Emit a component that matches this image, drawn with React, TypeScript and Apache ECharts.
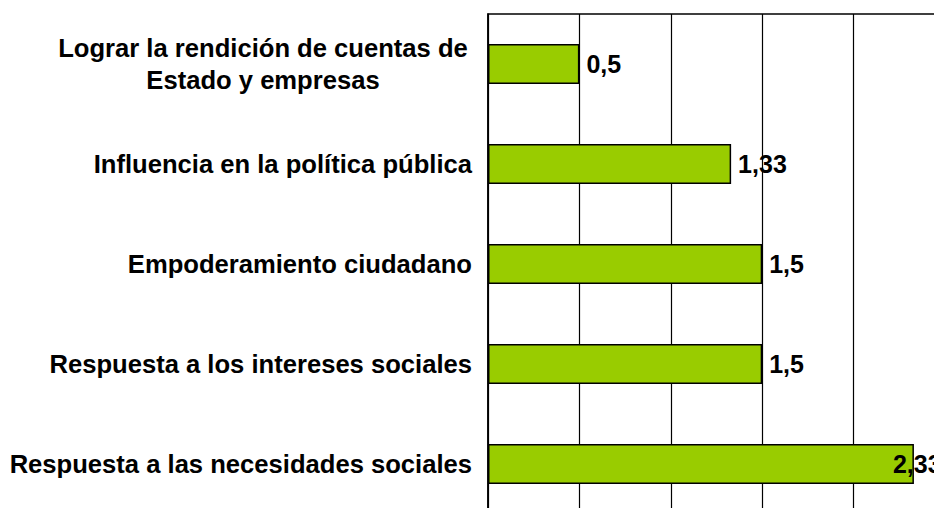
import React, { useEffect, useRef } from "react";
import * as echarts from "echarts";

const categories = [
  "Lograr la rendición de cuentas de\nEstado y empresas",
  "Influencia en la política pública",
  "Empoderamiento ciudadano",
  "Respuesta a los intereses sociales",
  "Respuesta a las necesidades sociales",
];
const values = [0.5, 1.33, 1.5, 1.5, 2.33];
const xTicks = [0, 0.5, 1, 1.5, 2, 2.5];

const FONT = "'Liberation Sans', Arial, sans-serif";
const FS = 25.6;

export default function App() {
  const ref = useRef<HTMLDivElement>(null);
  useEffect(() => {
    if (!ref.current) return;
    const chart = echarts.init(ref.current, null, { renderer: "svg" });
    chart.setOption({
      animation: false,
      backgroundColor: "#ffffff",
      grid: {
        left: 488,
        top: 14,
        width: 457,
        height: 500,
        show: true,
        borderColor: "#000",
        borderWidth: 1.5,
        containLabel: false,
      },
      xAxis: {
        type: "value",
        min: xTicks[0],
        max: xTicks[xTicks.length - 1],
        interval: 0.5,
        axisLabel: { show: false },
        axisTick: { show: false },
        axisLine: { show: false },
        splitLine: { show: true, lineStyle: { color: "#000", width: 1.2 } },
      },
      yAxis: {
        type: "category",
        data: categories,
        inverse: true,
        axisTick: { show: false },
        axisLine: { show: true, lineStyle: { color: "#000", width: 1.5 } },
        axisLabel: {
          margin: 16,
          color: "#000",
          fontFamily: FONT,
          fontWeight: "bold",
          fontSize: FS,
          align: "right",
          formatter: (v: string) => {
            if (v.indexOf("\n") >= 0) {
              return v
                .split("\n")
                .map((l) => "{c|" + l + "}")
                .join("\n");
            }
            return v;
          },
          rich: {
            c: {
              width: 418,
              align: "center",
              fontFamily: FONT,
              fontWeight: "bold",
              fontSize: FS,
              lineHeight: 32,
              color: "#000",
            },
          },
        },
      },
      series: [
        {
          type: "bar",
          barWidth: "40%",
          data: values.map((v, i) =>
            i === values.length - 1
              ? { value: v, label: { offset: [-28, 0] } }
              : { value: v }
          ),
          itemStyle: { color: "#99CC00", borderColor: "#000", borderWidth: 1.5 },
          label: {
            show: true,
            position: "right",
            distance: 7,
            color: "#000",
            fontFamily: FONT,
            fontWeight: "bold",
            fontSize: 25,
            formatter: (p: any) => String(p.value).replace(".", ","),
          },
        },
      ],
    });
    return () => chart.dispose();
  }, []);
  return (
    <div
      style={{
        position: "fixed",
        left: 0,
        top: 0,
        width: 934,
        height: 508,
        overflow: "hidden",
        background: "#fff",
      }}
    >
      <div ref={ref} style={{ width: 960, height: 530 }} />
    </div>
  );
}
